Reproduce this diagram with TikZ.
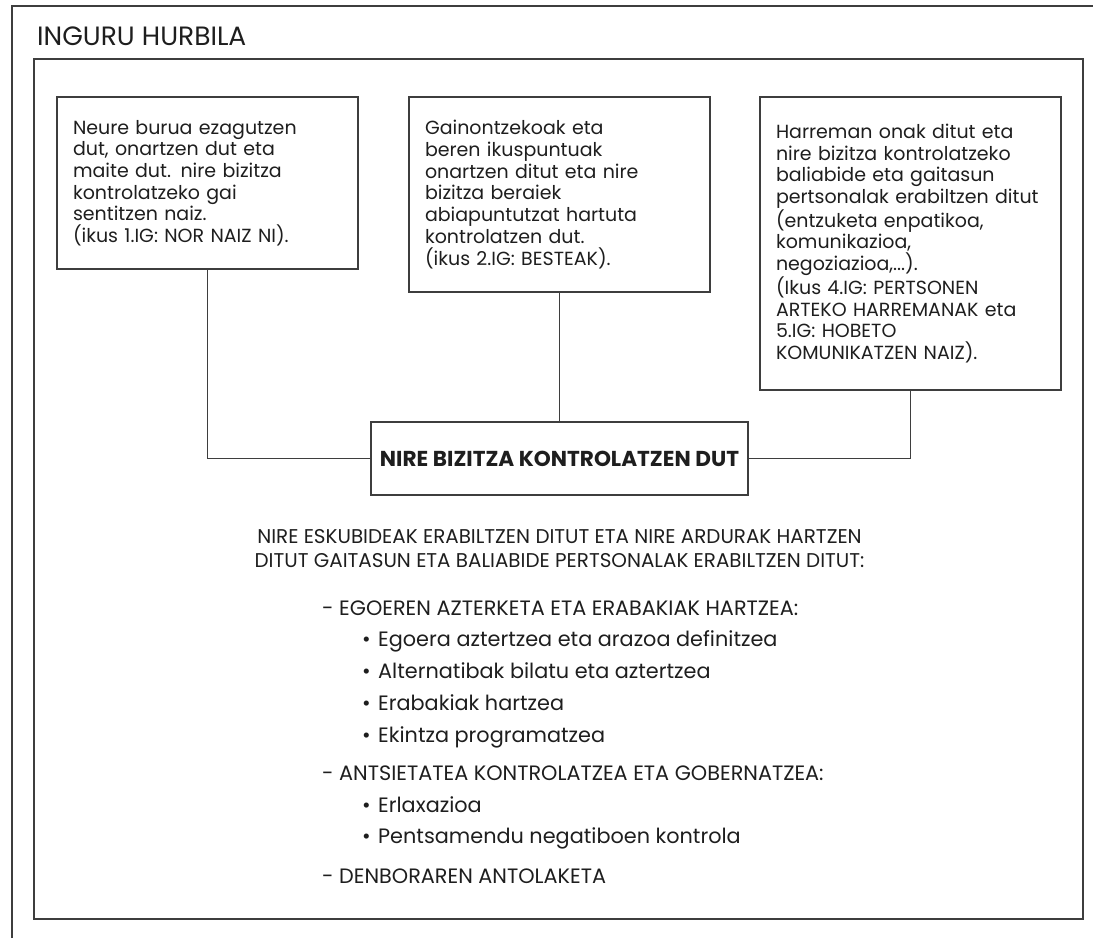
\documentclass[tikz,border=0pt]{standalone}
\usepackage{fontspec}
\setmainfont{Poppins}
\usetikzlibrary{positioning}
\definecolor{linecol}{RGB}{62,62,62}
\definecolor{textcol}{RGB}{30,30,30}
\newcommand\bodyfont{\fontsize{19}{21.7}\selectfont}
\newcommand\parafont{\fontsize{19.9}{23.3}\selectfont}
\newcommand\listfont{\fontsize{20.8}{23.3}\selectfont}
\newcommand\titlefont{\fontsize{26.5}{30}\selectfont}
\newcommand\headfont{\fontsize{21.6}{25}\selectfont}
\tikzset{
  infobox/.style={
    rectangle, draw=linecol, line width=1.1pt,
    text width=269pt, inner xsep=16pt, inner ysep=0pt,
    align=left, font=\bodyfont, text=textcol
  },
  mainbox/.style={
    rectangle, draw=linecol, line width=1.1pt,
    minimum width=377pt, minimum height=73pt,
    font=\headfont\bfseries, text=textcol
  },
  framebox/.style={
    rectangle, draw=linecol, line width=1.2pt,
    minimum width=1049pt, minimum height=860pt
  },
  link/.style={draw=linecol, line width=1.1pt},
  listitem/.style={anchor=base west, inner sep=0pt, font=\listfont, text=textcol},
}

\begin{document}
\begin{tikzpicture}[x=1pt, y=-1pt]
  \useasboundingbox (0,0) rectangle (1095,938);

  % ── Page border and title ──
  \draw[linecol, line width=1.2pt] (12,938) |- (1093,6);
  \node[anchor=base west, inner sep=0pt, font=\titlefont, text=textcol]
    (title) at (37,45) {INGURU HURBILA};

  \node[framebox] (frame) at (558.5,489) {};

  % ── Three boxes ──
  \node[infobox, minimum height=172pt] (self) at (207.5,183) {
    Neure burua ezagutzen\\
    dut, onartzen dut eta\\
    maite dut. nire bizitza\\
    kontrolatzeko gai\\
    sentitzen naiz.\\
    (ikus 1.IG: NOR NAIZ NI).};

  \node[infobox, minimum height=195pt] (others) at (559.5,194.5) {
    Gainontzekoak eta\\
    beren ikuspuntuak\\
    onartzen ditut eta nire\\
    bizitza beraiek\\
    abiapuntutzat hartuta\\
    kontrolatzen dut.\\
    (ikus 2.IG: BESTEAK).};

  \node[infobox, minimum height=293pt] (relations) at (910.5,243.5) {
    Harreman onak ditut eta\\
    nire bizitza kontrolatzeko\\
    baliabide eta gaitasun\\
    pertsonalak erabiltzen ditut\\
    (entzuketa enpatikoa,\\
    komunikazioa,\\
    negoziazioa,...).\\
    (Ikus 4.IG: PERTSONEN\\
    ARTEKO HARREMANAK eta\\
    5.IG: HOBETO\\
    KOMUNIKATZEN NAIZ).};

  % ── Central box ──
  \node[mainbox] (control) at (559.5,458.5) {NIRE BIZITZA KONTROLATZEN DUT};

  % ── Links ──
  \draw[link] (self.south)      |- (control.west);
  \draw[link] (others.south)    -- (control.north);
  \draw[link] (relations.south) |- (control.east);

  % ── Rights and resources ──
  \node[anchor=north, inner sep=0pt, align=center, font=\parafont, text=textcol,
        below=34pt of control]
    (rights) {NIRE ESKUBIDEAK ERABILTZEN DITUT ETA NIRE ARDURAK HARTZEN\\
              DITUT GAITASUN ETA BALIABIDE PERTSONALAK ERABILTZEN DITUT:};

  % ── List ──
  \node[listitem] (decide) at (322,615) {- EGOEREN AZTERKETA ETA ERABAKIAK HARTZEA:};
  \node[listitem] (decideA) at (362,646) {\makebox[16pt][l]{\textbullet}Egoera aztertzea eta arazoa definitzea};
  \node[listitem] (decideB) at (362,678) {\makebox[16pt][l]{\textbullet}Alternatibak bilatu eta aztertzea};
  \node[listitem] (decideC) at (362,710) {\makebox[16pt][l]{\textbullet}Erabakiak hartzea};
  \node[listitem] (decideD) at (362,742) {\makebox[16pt][l]{\textbullet}Ekintza programatzea};
  \node[listitem] (anxiety) at (322,780) {- ANTSIETATEA KONTROLATZEA ETA GOBERNATZEA:};
  \node[listitem] (anxietyA) at (362,812) {\makebox[16pt][l]{\textbullet}Erlaxazioa};
  \node[listitem] (anxietyB) at (362,843) {\makebox[16pt][l]{\textbullet}Pentsamendu negatiboen kontrola};
  \node[listitem] (time) at (322,883) {- DENBORAREN ANTOLAKETA};

\end{tikzpicture}
\end{document}
